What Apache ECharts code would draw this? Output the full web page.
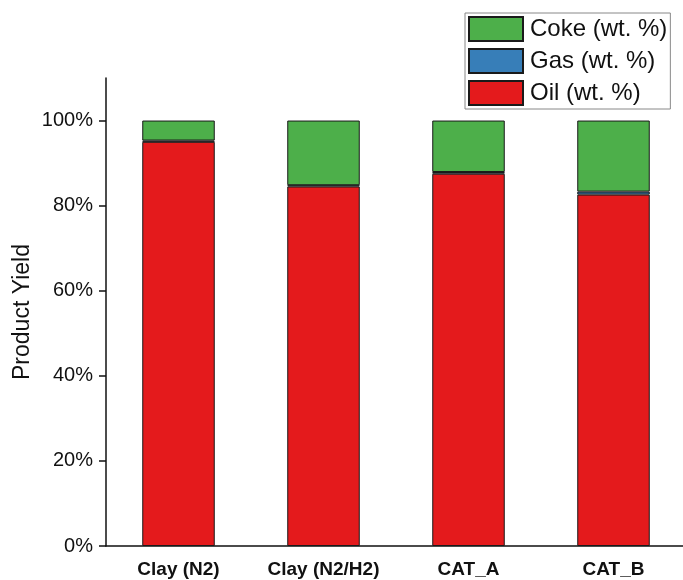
<!DOCTYPE html>
<html>
<head>
<meta charset="utf-8">
<script src="https://cdn.jsdelivr.net/npm/echarts@6/dist/echarts.min.js"></script>
<style>html,body{margin:0;padding:0;background:#fff}#c{width:683px;height:580px}</style>
</head>
<body>
<div id="c"></div>
<script>
const categories = ['Clay (N2)', 'Clay (N2/H2)', 'CAT_A', 'CAT_B'];
const oil = [95.0, 84.5, 87.5, 82.6];
const gas = [0.3, 0.3, 0.4, 0.7];
const coke = [4.7, 15.2, 12.1, 16.7];
const yTicks = [0, 20, 40, 60, 80, 100];

const chart = echarts.init(document.getElementById('c'), null, {renderer: 'canvas'});
const font = '"Liberation Sans", Arial, sans-serif';
const barStyle = (c) => ({color: c, borderColor: '#1a1a1a', borderWidth: 1});
chart.setOption({
  animation: false,
  textStyle: {fontFamily: font},
  legend: {
    data: ['Coke (wt. %)', 'Gas (wt. %)', 'Oil (wt. %)'],
    orient: 'vertical',
    left: 465, top: 13,
    itemWidth: 54, itemHeight: 24, itemGap: 6,
    padding: [3, 3, 3, 3],
    borderColor: '#888', borderWidth: 1,
    icon: 'rect',
    textStyle: {fontSize: 24, lineHeight: 24, color: '#111', fontFamily: font, padding: [0, 0, 0, 2]}
  },
  grid: {left: 106, top: 78, width: 580, height: 468, containLabel: false, outerBoundsMode: 'none'},
  xAxis: {
    type: 'category',
    data: categories,
    axisLine: {lineStyle: {color: '#111', width: 1.5}},
    axisTick: {alignWithLabel: true, length: 7, lineStyle: {color: '#111', width: 1.5}},
    axisLabel: {interval: 0, hideOverlap: false, fontSize: 19, fontWeight: 'bold', color: '#111', margin: 14, fontFamily: font}
  },
  yAxis: {
    type: 'value',
    min: 0, max: 110, interval: 20,
    name: 'Product Yield',
    nameLocation: 'middle',
    nameGap: 72,
    nameMoveOverlap: false,
    nameTextStyle: {fontSize: 23, color: '#111', fontFamily: font},
    splitLine: {show: false},
    axisLine: {show: true, lineStyle: {color: '#111', width: 1.5}},
    axisTick: {show: true, length: 7, lineStyle: {color: '#111', width: 1.5}},
    axisLabel: {fontSize: 20, color: '#111', margin: 13, fontFamily: font, showMaxLabel: false,
      formatter: (v) => yTicks.includes(v) ? v + '%' : ''}
  },
  series: [
    {name: 'Oil (wt. %)', type: 'bar', stack: 'y', data: oil, barWidth: '50%', itemStyle: barStyle('#e41a1c')},
    {name: 'Gas (wt. %)', type: 'bar', stack: 'y', data: gas, barWidth: '50%', itemStyle: barStyle('#377eb8')},
    {name: 'Coke (wt. %)', type: 'bar', stack: 'y', data: coke, barWidth: '50%', itemStyle: barStyle('#4daf4a')}
  ]
});
</script>
</body>
</html>
